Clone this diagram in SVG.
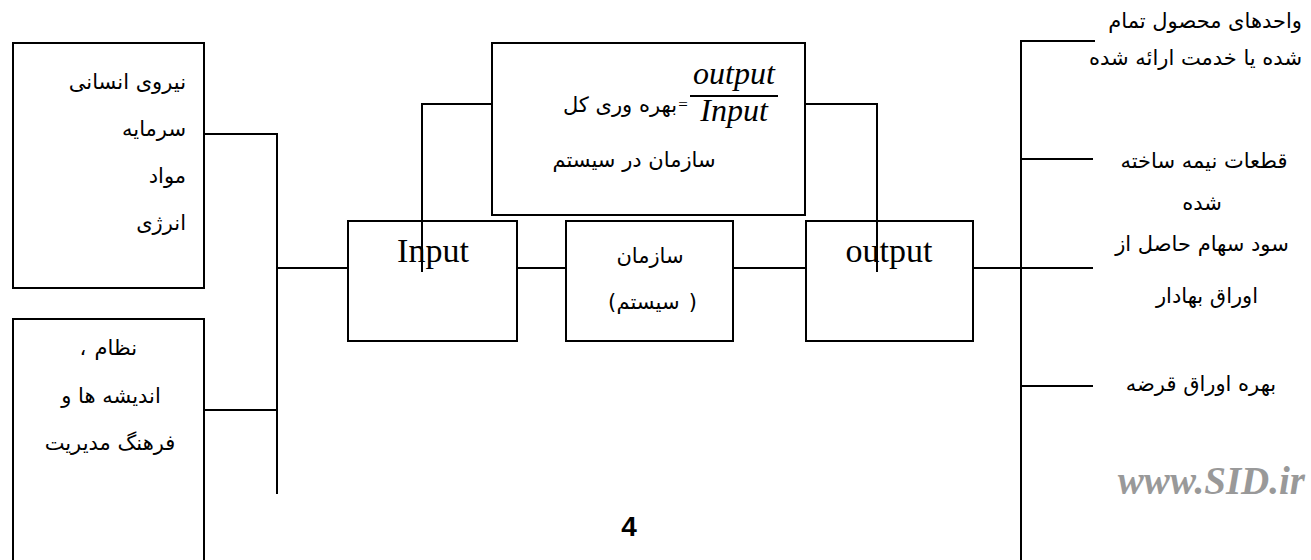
<svg xmlns="http://www.w3.org/2000/svg" width="1311" height="560" viewBox="0 0 1311 560">
<style>
.box{fill:none;stroke:#000;stroke-width:2}
.ln{fill:none;stroke:#000;stroke-width:2}
.fa{font-family:"DejaVu Sans","Noto Sans",sans-serif;font-size:21px;fill:#000}
.tm{font-family:"Liberation Serif","Times New Roman",serif;fill:#000}
</style>
<rect width="1311" height="560" fill="#fff"/>
<g id="connectors">
<path class="ln" d="M204,134 H277 V494"/>
<path class="ln" d="M204,410 H277"/>
<path class="ln" d="M277,268 H348"/>
<path class="ln" d="M517,268 H566"/>
<path class="ln" d="M733,268 H806"/>
<path class="ln" d="M973,268 H1021"/>
<path class="ln" d="M492,104 H422 V272"/>
<path class="ln" d="M805,104 H877 V272"/>
<path class="ln" d="M1095,41 H1021 V560"/>
<path class="ln" d="M1021,159 H1093"/>
<path class="ln" d="M1021,268 H1093"/>
<path class="ln" d="M1021,386 H1093"/>
</g>
<g id="resources">
<rect class="box" x="13" y="43" width="191" height="245"/>
<text class="fa" x="186" y="89" text-anchor="end" font-size="24">نیروی انسانی</text>
<text class="fa" x="186" y="136" text-anchor="end" font-size="24">سرمایه</text>
<text class="fa" x="186" y="183" text-anchor="end" font-size="24">مواد</text>
<text class="fa" x="186" y="230" text-anchor="end" font-size="24">انرژی</text>
</g>
<g id="management">
<rect class="box" x="13" y="319" width="191" height="260"/>
<text class="fa" x="137" y="355" text-anchor="end">نظام</text>
<text class="fa" x="83" y="355" text-anchor="middle">،</text>
<text class="fa" x="111" y="403" text-anchor="middle">اندیشه ها و</text>
<text class="fa" x="110" y="450" text-anchor="middle">فرهنگ مدیریت</text>
</g>
<g id="productivity">
<rect class="box" x="492" y="43" width="313" height="172"/>
<text class="fa" x="677" y="112" text-anchor="end" font-size="23">بهره وری کل</text>
<text class="tm" x="683" y="110" font-size="17" text-anchor="middle">=</text>
<text class="tm" x="734" y="84" font-size="32" font-style="italic" text-anchor="middle">output</text>
<line class="ln" x1="690" y1="96" x2="778" y2="96" stroke-width="1.5"/>
<text class="tm" x="734" y="121" font-size="32" font-style="italic" text-anchor="middle">Input</text>
<text class="fa" x="634" y="167" text-anchor="middle" font-size="25">سازمان در سیستم</text>
</g>
<g id="input">
<rect class="box" x="348" y="221" width="169" height="120"/>
<text class="tm" x="433" y="262" font-size="34" text-anchor="middle">Input</text>
</g>
<g id="system">
<rect class="box" x="566" y="221" width="167" height="120"/>
<text class="fa" x="650" y="263" text-anchor="middle" font-size="22">سازمان</text>
<text class="fa" x="608" y="309" font-size="22">(</text>
<text class="fa" x="648" y="309" text-anchor="middle" font-size="22">سیستم</text>
<text class="fa" x="697" y="309" text-anchor="end" font-size="22">)</text>
</g>
<g id="output">
<rect class="box" x="806" y="221" width="167" height="120"/>
<text class="tm" x="889" y="262" font-size="34" text-anchor="middle">output</text>
</g>
<g id="outputs">
<text class="fa" x="1302" y="28" text-anchor="end" font-size="23">واحدهای محصول تمام</text>
<text class="fa" x="1302" y="65" text-anchor="end">شده یا خدمت ارائه شده</text>
<text class="fa" x="1204" y="168" text-anchor="middle" font-size="22">قطعات نیمه ساخته</text>
<text class="fa" x="1202" y="210" text-anchor="middle">شده</text>
<text class="fa" x="1202" y="251" text-anchor="middle">سود سهام حاصل از</text>
<text class="fa" x="1207" y="303" text-anchor="middle">اوراق بهادار</text>
<text class="fa" x="1201" y="391" text-anchor="middle">بهره اوراق قرضه</text>
</g>
<text class="tm" x="1305" y="494" font-size="39" font-weight="bold" font-style="italic" text-anchor="end" style="fill:#999">www.SID.ir</text>
<text x="629" y="536" font-family="Liberation Sans,Arial,sans-serif" font-size="28" font-weight="bold" text-anchor="middle">4</text>
</svg>
